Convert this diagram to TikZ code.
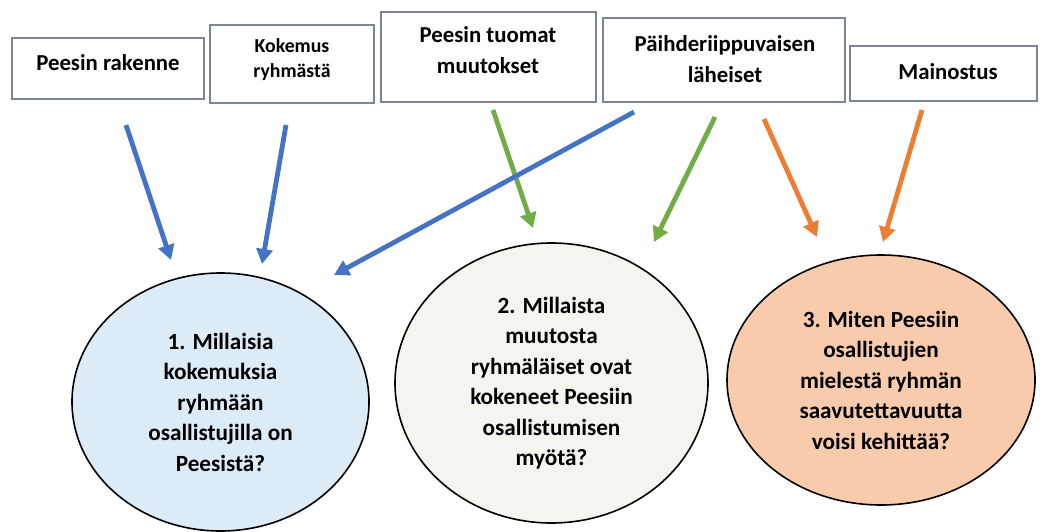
\documentclass[tikz,border=0pt]{standalone}
\usepackage{fontspec}
\setmainfont{Carlito}
\usetikzlibrary{shapes.geometric,arrows.meta,shadows}
\definecolor{boxline}{RGB}{125,132,148}
\definecolor{arrblue}{RGB}{68,114,196}
\definecolor{arrgreen}{RGB}{112,173,71}
\definecolor{arrorange}{RGB}{237,125,49}
\definecolor{fillblue}{RGB}{221,235,247}
\definecolor{fillgreen}{RGB}{243,246,239}
\definecolor{fillorange}{RGB}{248,203,173}
\begin{document}
\begin{tikzpicture}[x=1pt,y=-1pt,
  topbox/.style={draw=boxline, line width=1.4pt, fill=white, inner sep=0pt,
    drop shadow={shadow xshift=1.3pt, shadow yshift=-1.3pt, opacity=0.35, fill=black}},
  boxtext/.style={align=center, inner sep=0pt, font=\bfseries\fontsize{22.8}{31}\selectfont},
  smalltext/.style={align=center, inner sep=0pt, font=\bfseries\fontsize{19.8}{25}\selectfont},
  question/.style={ellipse, draw=black, line width=1.6pt, inner sep=0pt, align=center,
    font=\bfseries\fontsize{23.2}{30.5}\selectfont},
  conn/.style={line width=4.8pt, -{Triangle[length=15pt,width=16pt]}, shorten >=0pt}
]
\path[use as bounding box, fill=white] (0,0) rectangle (1040,532);

% top boxes
\node[topbox, minimum width=192pt, minimum height=61pt] (b1) at (108,68.5) {};
\node[boxtext] (b1t) at (108,63) {Peesin rakenne};
\node[topbox, minimum width=164pt, minimum height=78pt] (b2) at (292,64) {};
\node[smalltext] (b2t) at (292,59.5) {Kokemus\\ryhmästä};
\node[topbox, minimum width=215pt, minimum height=90pt] (b3) at (488.5,57) {};
\node[boxtext] (b3t) at (488,50) {Peesin tuomat\\muutokset};
\node[topbox, minimum width=242pt, minimum height=84pt] (b4) at (724,60) {};
\node[boxtext] (b4t) at (725,59) {Päihderiippuvaisen\\läheiset};
\node[topbox, minimum width=187pt, minimum height=55pt] (b5) at (943.5,73.5) {};
\node[boxtext] (b5t) at (948,72) {Mainostus};

% questions
\node[question, fill=fillblue, minimum width=297pt, minimum height=258pt] (q1) at (220.5,402)
  {1. Millaisia\\kokemuksia\\ryhmään\\osallistujilla on\\Peesistä?};
\node[question, fill=fillgreen, minimum width=313pt, minimum height=280pt] (q2) at (551.5,383)
  {2. Millaista\\muutosta\\ryhmäläiset ovat\\kokeneet Peesiin\\osallistumisen\\myötä?};
\node[question, fill=fillorange, minimum width=308pt, minimum height=250pt] (q3) at (881,380)
  {3. Miten Peesiin\\osallistujien\\mielestä ryhmän\\saavutettavuutta\\voisi kehittää?};

% connector ends
\coordinate (s1) at (126,125);  \coordinate (e1) at (171,260);
\coordinate (s2) at (286,125);  \coordinate (e2) at (262,264);
\coordinate (s3) at (634,112);  \coordinate (e3) at (334,275);
\coordinate (s4) at (493,110);  \coordinate (e4) at (533,228);
\coordinate (s5) at (715,117);  \coordinate (e5) at (654,242);
\coordinate (s6) at (764,119);  \coordinate (e6) at (817,237);
\coordinate (s7) at (922,110);  \coordinate (e7) at (883,242);

\draw[conn, arrblue] (s1) -- (e1);
\draw[conn, arrblue] (s2) -- (e2);
\draw[conn, arrgreen] (s4) -- (e4);
\draw[conn, arrgreen] (s5) -- (e5);
\draw[conn, arrblue] (s3) -- (e3);
\draw[conn, arrorange] (s6) -- (e6);
\draw[conn, arrorange] (s7) -- (e7);
\end{tikzpicture}
\end{document}
